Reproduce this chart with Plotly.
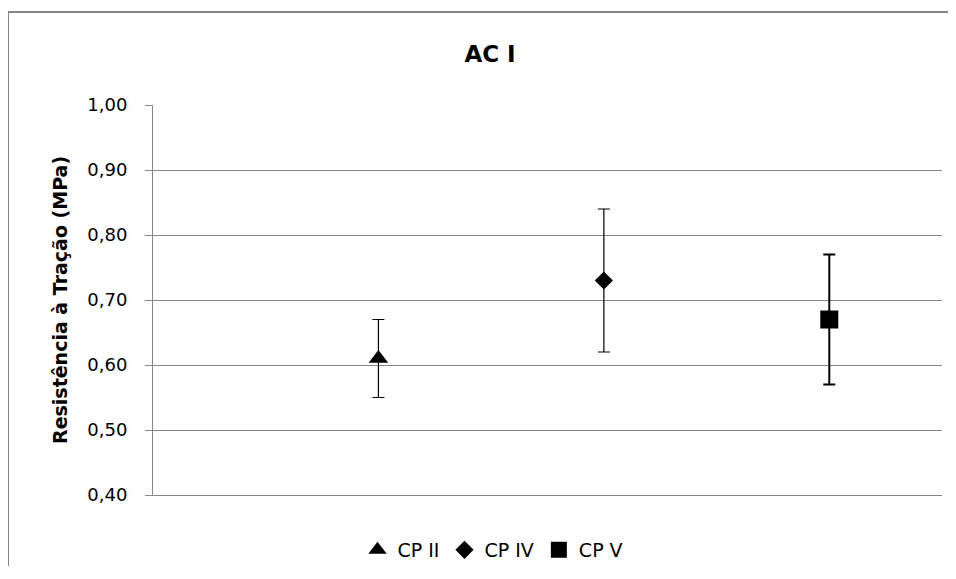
import plotly.graph_objects as go

series_names = ["CP II", "CP IV", "CP V"]
x_positions = [1, 2, 3]
means = [0.61, 0.73, 0.67]
errors = [0.06, 0.11, 0.10]
symbols = ["triangle-up", "diamond", "square"]
marker_sizes = [17, 14, 18]
err_thick = [1.2, 1.2, 2]

GRID = "#868686"
FONT = "DejaVu Sans"

OFF = 8  # page body margin offset
W, H = 940, 558
L, T = 153 - OFF, 105 - OFF
R = W - (942 - OFF)
B = H - T - 390
pw = W - L - R
ph = H - T - B

def px(xp):
    return (xp - OFF - L) / pw

def py(yp):
    return (H - B - (yp - OFF)) / ph

def cy(yp):
    return 1 - (yp - OFF) / H

fig = go.Figure()
for name, xv, m, e, sym, ms, th in zip(series_names, x_positions, means, errors, symbols, marker_sizes, err_thick):
    fig.add_trace(go.Scatter(
        x=[xv], y=[m], name=name, mode="markers",
        marker=dict(symbol=sym, size=ms, color="black"),
        error_y=dict(type="data", array=[e], visible=True, color="black", thickness=th, width=6),
    ))

fig.update_layout(
    width=W, height=H,
    margin=dict(l=L, r=R, t=T, b=B, autoexpand=False),
    paper_bgcolor="white", plot_bgcolor="white",
    separators=",.",
    font=dict(family=FONT, color="black"),
    title=dict(text="<b>AC I</b>", x=(490 - OFF) / W, xanchor="center", y=cy(54), yanchor="middle",
               font=dict(family=FONT, size=23, color="black")),
    xaxis=dict(range=[0, 3.5], showticklabels=False, showgrid=False, zeroline=False,
               showline=True, linecolor=GRID, linewidth=1, ticks=""),
    yaxis=dict(range=[0.4, 1.0], dtick=0.1, tick0=0.4, tickformat=".2f",
               showgrid=True, gridcolor=GRID, gridwidth=1, zeroline=False,
               showline=True, linecolor=GRID, linewidth=1,
               ticks="outside", ticklen=7, tickcolor=GRID, ticklabelstandoff=14,
               tickfont=dict(family=FONT, size=18, color="black")),
    showlegend=True,
    legend=dict(orientation="h", x=px(493), xanchor="center",
                yref="container", y=cy(550), yanchor="middle",
                font=dict(family=FONT, size=19, color="black"), itemwidth=30,
                tracegroupgap=0),
    annotations=[dict(text="<b>Resistência à Tração (MPa)</b>", xref="paper", yref="paper",
                      x=px(60), y=py(300), textangle=-90, showarrow=False,
                      xanchor="center", yanchor="middle",
                      font=dict(family=FONT, size=19, color="black"))],
    shapes=[dict(type="rect", xref="paper", yref="paper",
                 x0=px(8), x1=px(1000), y0=py(12), y1=py(620),
                 line=dict(color=GRID, width=2), layer="below")],
)

fig.write_html("out.html")
